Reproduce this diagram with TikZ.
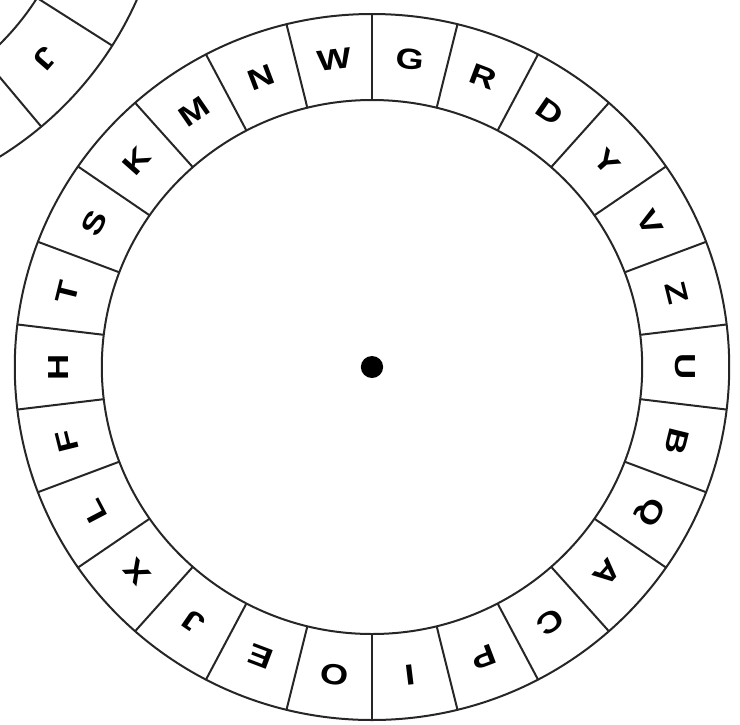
\documentclass[tikz,border=0pt]{standalone}
\usepackage{fontspec}
\setmainfont{Liberation Sans}
\begin{document}
\begin{tikzpicture}[x=1pt,y=1pt,
  ring/.style={draw=black!85, line width=2},
  letter/.style={inner sep=0, font=\fontsize{29}{29}\selectfont\bfseries}]
\useasboundingbox (0,-724) rectangle (740,0);
\clip (0,-724) rectangle (740,0);
% partial wheel at top-left
\begin{scope}[shift={(-185,143)}]
  \draw[ring] (0,0) circle (352);
  \draw[ring] (0,0) circle (263);
  \draw[ring] (-32.4:263) -- (-32.4:352);
  \draw[ring] (-50:263) -- (-50:352);
  \node[letter, rotate=-131.2] (pj) at (-41.2:306) {\scalebox{1.25}[1]{J}};
\end{scope}
% main wheel
\begin{scope}[shift={(372,-367)}, xscale=1.012]
  \draw[ring] (0,0) circle (353);
  \draw[ring] (0,0) circle (267);
  \foreach \i in {0,...,25}
    \draw[ring] ({90-\i*360/26}:267) -- ({90-\i*360/26}:353);
  \foreach \l [count=\i from 0] in {G,R,D,Y,V,Z,U,B,Q,A,C,P,I,O,E,J,X,L,F,H,T,S,K,M,N,W}
    \node[letter, rotate={-(\i+0.5)*360/26}] (L\i) at ({90-(\i+0.5)*360/26}:310) {\scalebox{1.25}[1]{\l}};
  \fill (0,0) circle (11);
\end{scope}
\end{tikzpicture}
\end{document}
